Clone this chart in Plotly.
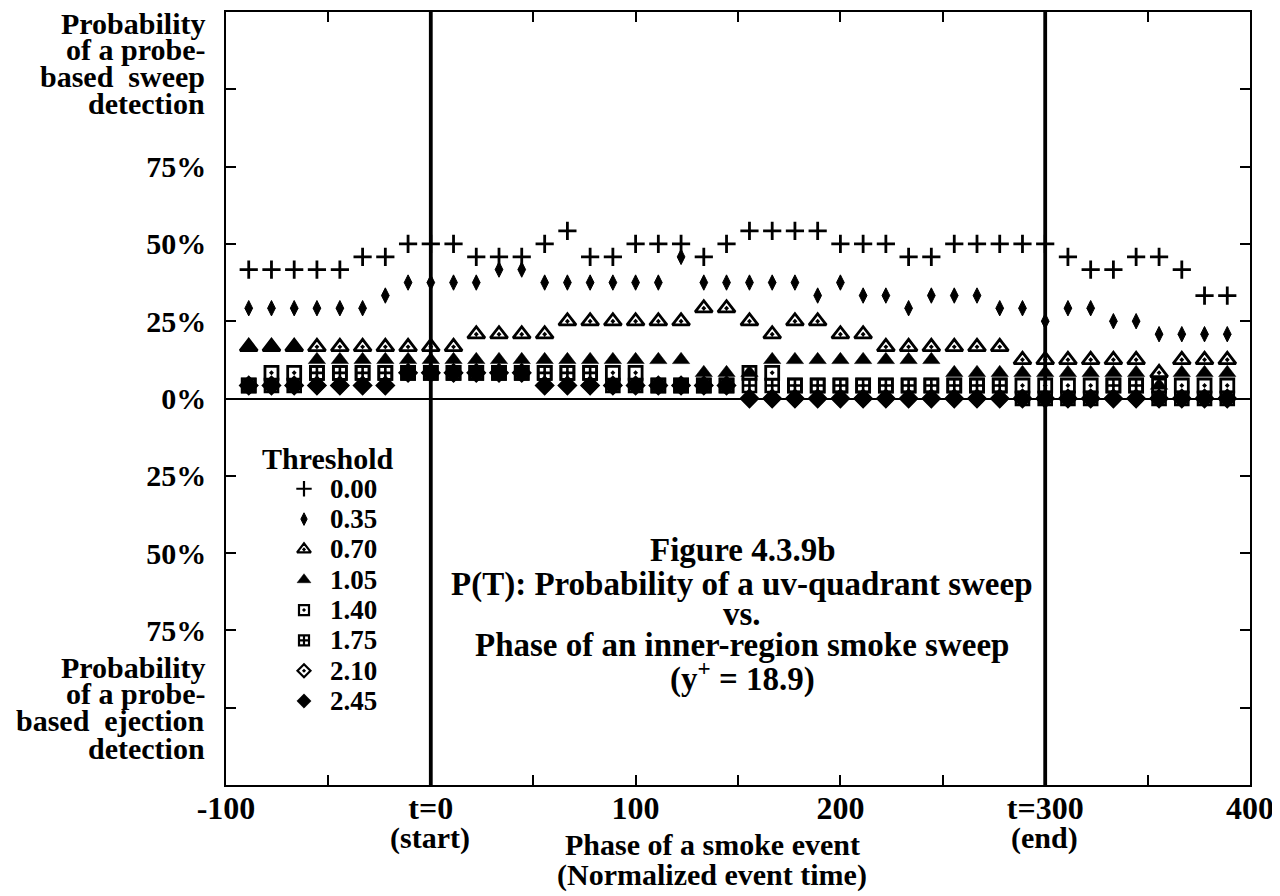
import plotly.graph_objects as go

# ---------------- data ----------------
phase = [-88.9, -77.8, -66.7, -55.6, -44.4, -33.3, -22.2, -11.1, 0.0, 11.1, 22.2,
         33.3, 44.4, 55.6, 66.7, 77.8, 88.9, 100.0, 111.1, 122.2, 133.3, 144.4,
         155.6, 166.7, 177.8, 188.9, 200.0, 211.1, 222.2, 233.3, 244.4, 255.6,
         266.7, 277.8, 288.9, 300.0, 311.1, 322.2, 333.3, 344.4, 355.6, 366.7,
         377.8, 388.9]

thresholds = ["0.00", "0.35", "0.70", "1.05", "1.40", "1.75", "2.10", "2.45"]

p_000 = [41.7, 41.7, 41.7, 41.7, 41.7, 45.8, 45.8, 50.0, 50.0, 50.0, 45.8, 45.8,
         45.8, 50.0, 54.2, 45.8, 45.8, 50.0, 50.0, 50.0, 45.8, 50.0, 54.2, 54.2,
         54.2, 54.2, 50.0, 50.0, 50.0, 45.8, 45.8, 50.0, 50.0, 50.0, 50.0, 50.0,
         45.8, 41.7, 41.7, 45.8, 45.8, 41.7, 33.3, 33.3]
p_035 = [29.2, 29.2, 29.2, 29.2, 29.2, 29.2, 33.3, 37.5, 37.5, 37.5, 37.5, 41.7,
         41.7, 37.5, 37.5, 37.5, 37.5, 37.5, 37.5, 45.8, 37.5, 37.5, 37.5, 37.5,
         37.5, 33.3, 37.5, 33.3, 33.3, 29.2, 33.3, 33.3, 33.3, 29.2, 29.2, 25.0,
         29.2, 29.2, 25.0, 25.0, 20.8, 20.8, 20.8, 20.8]
p_070 = [16.7, 16.7, 16.7, 16.7, 16.7, 16.7, 16.7, 16.7, 16.7, 16.7, 20.8, 20.8,
         20.8, 20.8, 25.0, 25.0, 25.0, 25.0, 25.0, 25.0, 29.2, 29.2, 25.0, 20.8,
         25.0, 25.0, 20.8, 20.8, 16.7, 16.7, 16.7, 16.7, 16.7, 16.7, 12.5, 12.5,
         12.5, 12.5, 12.5, 12.5, 8.3, 12.5, 12.5, 12.5]
p_105 = [16.7, 16.7, 16.7, 12.5, 12.5, 12.5, 12.5, 12.5, 12.5, 12.5, 12.5, 12.5,
         12.5, 12.5, 12.5, 12.5, 12.5, 12.5, 12.5, 12.5, 8.3, 8.3, 8.3, 12.5,
         12.5, 12.5, 12.5, 12.5, 12.5, 12.5, 12.5, 8.3, 8.3, 8.3, 8.3, 8.3,
         8.3, 8.3, 8.3, 8.3, 4.2, 8.3, 8.3, 8.3]
p_140 = [4.2, 8.3, 8.3, 8.3, 8.3, 8.3, 8.3, 8.3, 8.3, 8.3, 8.3, 8.3,
         8.3, 8.3, 8.3, 8.3, 8.3, 8.3, 4.2, 4.2, 4.2, 4.2, 8.3, 8.3,
         4.2, 4.2, 4.2, 4.2, 4.2, 4.2, 4.2, 4.2, 4.2, 4.2, 4.2, 4.2,
         4.2, 4.2, 4.2, 4.2, 4.2, 4.2, 4.2, 4.2]
p_175 = [4.2, 4.2, 4.2, 8.3, 8.3, 8.3, 8.3, 8.3, 8.3, 8.3, 8.3, 8.3,
         8.3, 8.3, 8.3, 8.3, 4.2, 4.2, 4.2, 4.2, 4.2, 4.2, 4.2, 4.2,
         4.2, 4.2, 4.2, 4.2, 4.2, 4.2, 4.2, 4.2, 4.2, 4.2, 0.0, 0.0,
         0.0, 0.0, 4.2, 4.2, 0.0, 0.0, 0.0, 0.0]
p_210 = [4.2, 4.2, 4.2, 4.2, 4.2, 4.2, 4.2, 8.3, 8.3, 8.3, 8.3, 8.3,
         8.3, 4.2, 4.2, 4.2, 4.2, 4.2, 4.2, 4.2, 4.2, 4.2, 0.0, 0.0,
         0.0, 0.0, 0.0, 0.0, 0.0, 0.0, 0.0, 0.0, 0.0, 0.0, 0.0, 0.0,
         0.0, 0.0, 0.0, 0.0, 0.0, 0.0, 0.0, 0.0]
p_245 = [4.2, 4.2, 4.2, 4.2, 4.2, 4.2, 4.2, 8.3, 8.3, 8.3, 8.3, 8.3,
         8.3, 4.2, 4.2, 4.2, 4.2, 4.2, 4.2, 4.2, 4.2, 4.2, 0.0, 0.0,
         0.0, 0.0, 0.0, 0.0, 0.0, 0.0, 0.0, 0.0, 0.0, 0.0, 0.0, 0.0,
         0.0, 0.0, 0.0, 0.0, 0.0, 0.0, 0.0, 0.0]

series = [p_000, p_035, p_070, p_105, p_140, p_175, p_210, p_245]

event_bounds = [0, 300]

x_tickvals = [-100, -50, 0, 50, 100, 150, 200, 250, 300, 350, 400]
x_ticktext = ["-100", "", "t=0", "", "100", "", "200", "", "t=300", "", "400"]
y_tickvals = [-125, -100, -75, -50, -25, 0, 25, 50, 75, 100, 125]
y_ticktext = ["", "", "75%", "50%", "25%", "0%", "25%", "50%", "75%", "", ""]

# ---------------- styles ----------------
FONT = "Liberation Serif"
symbols = ["cross-thin", "diamond-tall", "triangle-up-open-dot", "triangle-up",
           "square-open-dot", "square-cross-open", "diamond-open-dot", "diamond"]
sizes = [13, 11, 15, 15, 13, 13, 13, 14]
lwidths = [2.8, 1.0, 2.8, 0.5, 2.8, 2.6, 2.4, 0.5]
leg_sizes = [11, 9, 12, 12, 10, 10, 10, 11]

# page (screen) coordinates of the plot box; the html body adds an 8 px margin
OFF = 8
BOX_L, BOX_R, BOX_T, BOX_B = 226, 1250, 10, 785
W, H = 1280 - OFF, 896 - OFF
L, T = BOX_L - OFF, BOX_T - OFF
R, B = W - (BOX_R - OFF), H - (BOX_B - OFF)
PW, PH = BOX_R - BOX_L, BOX_B - BOX_T


def px(xp):
    return (xp - BOX_L) / PW


def py(yp):
    return (BOX_B - yp) / PH


fig = go.Figure()

for th, vals, sym, sz, lw in zip(thresholds, series, symbols, sizes, lwidths):
    fig.add_trace(go.Scatter(
        x=phase, y=vals, mode="markers", name=th, showlegend=False,
        marker=dict(symbol=sym, size=sz, color="black",
                    line=dict(color="black", width=lw)),
        hovertemplate="t=%{x}<br>%{y}%<extra>" + th + "</extra>"))

# hand-built legend (on an overlay axis spanning the plot area 0..1)
leg_x = px(304)
leg_y0 = py(488)
leg_dy = 30.4 / PH
for i, (th, sym, sz, lw) in enumerate(zip(thresholds, symbols, leg_sizes, lwidths)):
    yy = leg_y0 - i * leg_dy
    fig.add_trace(go.Scatter(
        x=[leg_x], y=[yy], xaxis="x2", yaxis="y2", mode="markers",
        showlegend=False, hoverinfo="skip",
        marker=dict(symbol=sym, size=sz, color="black",
                    line=dict(color="black", width=min(lw, 2.2)))))
    fig.add_annotation(text="<b>" + th + "</b>", xref="paper", yref="paper",
                       x=px(328), y=yy, xanchor="left", yanchor="middle",
                       showarrow=False,
                       font=dict(family=FONT, size=27, color="black"))

fig.add_annotation(text="<b>Threshold</b>", xref="paper", yref="paper",
                   x=px(327), y=py(458), xanchor="center", yanchor="middle",
                   showarrow=False, font=dict(family=FONT, size=30, color="black"))

# event boundaries
for xb in event_bounds:
    fig.add_shape(type="line", xref="x", yref="paper", x0=xb, x1=xb, y0=0, y1=1,
                  line=dict(color="black", width=3.8), layer="above")


def ann(text, xp, yp, size=30, xanchor="center"):
    fig.add_annotation(text="<b>" + text + "</b>", xref="paper", yref="paper",
                       x=px(xp), y=py(yp), xanchor=xanchor, yanchor="middle",
                       showarrow=False,
                       font=dict(family=FONT, size=size, color="black"))


# y-axis side labels
for t, yy in zip(["Probability", "of a probe-", "based\u00a0 sweep", "detection"],
                 [22, 48, 75, 102]):
    ann(t, 207, yy, size=30, xanchor="right")
for t, yy in zip(["Probability", "of a probe-", "based\u00a0 ejection", "detection"],
                 [667, 693, 720, 748]):
    ann(t, 207, yy, size=30, xanchor="right")

# x tick sub-labels and title
ann("(start)", 430, 838, size=30)
ann("(end)", 1044, 838, size=30)
ann("Phase of a smoke event", 712, 845, size=30)
ann("(Normalized event time)", 712, 875, size=30)

# caption
ann("Figure 4.3.9b", 742, 549, size=33)
ann("P(T): Probability of a uv-quadrant sweep", 742, 584, size=33)
ann("vs.", 742, 614, size=33)
ann("Phase of an inner-region smoke sweep", 742, 645, size=33)
ann("(y<sup>+</sup> = 18.9)", 742, 676, size=33)

axis_common = dict(showline=True, linecolor="black", linewidth=1.6, mirror="ticks",
                   ticks="inside", ticklen=10, tickwidth=1.5, tickcolor="black",
                   showgrid=False)

fig.update_layout(
    width=W, height=H,
    margin=dict(l=L, r=R, t=T, b=B),
    paper_bgcolor="white", plot_bgcolor="white",
    showlegend=False,
    xaxis=dict(range=[-100, 400], tickvals=x_tickvals, ticktext=x_ticktext,
               zeroline=False, ticklabelstandoff=-6,
               tickfont=dict(family=FONT, size=32, color="black", weight="bold"),
               **axis_common),
    yaxis=dict(range=[-125, 125], tickvals=y_tickvals, ticktext=y_ticktext,
               zeroline=True, zerolinecolor="black", zerolinewidth=1.6,
               ticklabelstandoff=12,
               tickfont=dict(family=FONT, size=30, color="black", weight="bold"),
               **axis_common),
    xaxis2=dict(overlaying="x", range=[0, 1], visible=False),
    yaxis2=dict(overlaying="y", range=[0, 1], visible=False),
)

fig.write_html("out.html")
